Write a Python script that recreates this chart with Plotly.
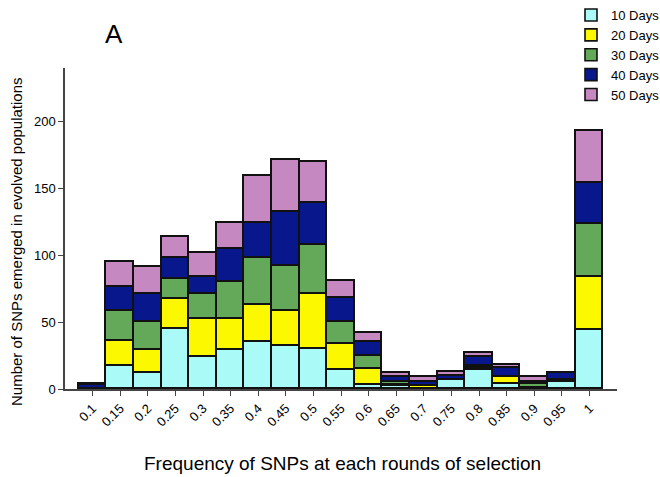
import plotly.graph_objects as go

categories = ["0.1", "0.15", "0.2", "0.25", "0.3", "0.35", "0.4", "0.45", "0.5", "0.55",
              "0.6", "0.65", "0.7", "0.75", "0.8", "0.85", "0.9", "0.95", "1"]

days10 = [0, 17, 12, 45, 24, 29, 35, 32, 30, 14, 3, 2, 0, 7, 14, 4, 0, 5, 44]
days20 = [0, 19, 17, 22, 28, 23, 28, 26, 41, 20, 12, 1, 2, 0, 2, 5, 1, 1, 40]
days30 = [0, 22, 21, 15, 19, 28, 35, 34, 37, 16, 10, 2, 0, 0, 1, 0, 3, 1, 39]
days40 = [3, 18, 21, 16, 13, 25, 26, 40, 31, 18, 10, 4, 3, 3, 7, 7, 1, 5, 31]
days50 = [1, 19, 20, 16, 18, 19, 35, 39, 31, 13, 7, 3, 4, 3, 3, 2, 4, 0, 39]

series_names = ["10 Days", "20 Days", "30 Days", "40 Days", "50 Days"]
series_values = [days10, days20, days30, days40, days50]
series_colors = ["#aafaf8", "#fcf800", "#64a85a", "#08188c", "#c588c0"]

y_ticks = [0, 50, 100, 150, 200]

FONT = "Arial, Liberation Sans, sans-serif"

fig = go.Figure()
for name, vals, col in zip(series_names, series_values, series_colors):
    fig.add_trace(go.Bar(
        x=categories, y=vals, name=name,
        marker=dict(color=col, line=dict(color="#111111", width=1.6)),
    ))

fig.update_layout(
    width=660, height=477,
    margin=dict(l=65, r=43, t=68, b=88, autoexpand=False),
    barmode="stack", bargap=0,
    paper_bgcolor="white", plot_bgcolor="white",
    font=dict(family=FONT, color="#111111"),
    showlegend=True,
    legend=dict(
        xref="container", yref="container",
        x=571 / 660, y=1.0, xanchor="left", yanchor="top",
        traceorder="normal", font=dict(size=13, family=FONT, color="#000000"),
        bgcolor="rgba(0,0,0,0)", itemwidth=30, tracegroupgap=0,
    ),
    xaxis=dict(
        type="category", categoryorder="array", categoryarray=categories,
        range=[-1, 19], showline=True, linecolor="#444444", linewidth=1.5,
        ticks="outside", ticklen=5, tickcolor="#444444", tickwidth=1.2,
        tickangle=-45, tickfont=dict(size=13, family=FONT, color="#000000"),
        showgrid=False, zeroline=False,
    ),
    yaxis=dict(
        range=[0, 240], tickvals=y_ticks, showline=True, linecolor="#444444",
        linewidth=1.5, ticks="outside", ticklen=5, tickcolor="#444444",
        tickwidth=1.2, tickfont=dict(size=13, family=FONT, color="#000000"),
        showgrid=False, zeroline=False,
    ),
    annotations=[
        dict(text="A", x=(114 - 65) / 552, y=(389 - 34) / 321, xref="paper", yref="paper",
             showarrow=False, font=dict(size=26, family=FONT, color="#000000"),
             xanchor="center", yanchor="middle"),
        dict(text="Number of SNPs emerged in evolved populations",
             x=(16 - 65) / 552, y=(389 - 242) / 321, xref="paper", yref="paper",
             showarrow=False, textangle=-90, font=dict(size=15, family=FONT, color="#000000"),
             xanchor="center", yanchor="middle"),
        dict(text="Frequency of SNPs at each rounds of selection",
             x=(342 - 65) / 552, y=(389 - 463) / 321, xref="paper", yref="paper",
             showarrow=False, font=dict(size=19, family=FONT, color="#000000"),
             xanchor="center", yanchor="middle"),
    ],
)

fig.write_html("out.html")
